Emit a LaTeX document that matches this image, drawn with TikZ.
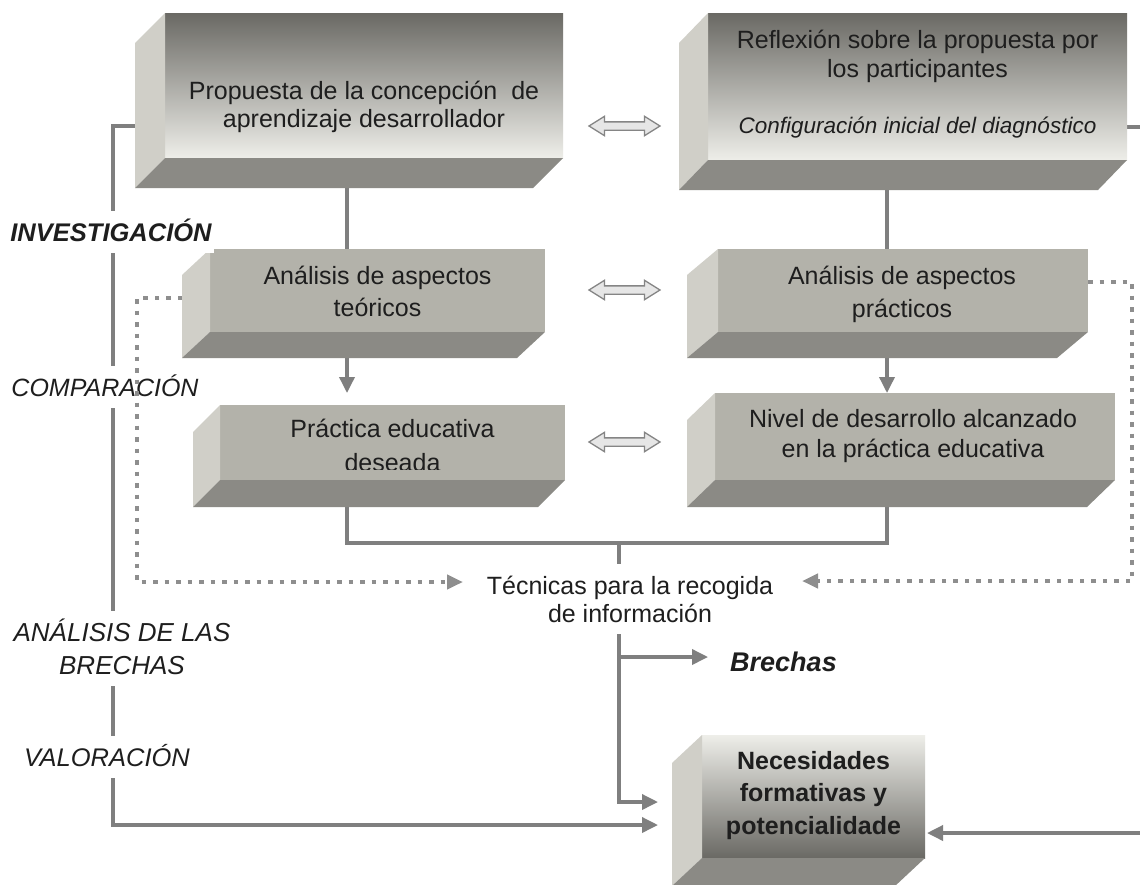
\documentclass[tikz,border=0pt]{standalone}
\usepackage{fontspec}
\setmainfont{Liberation Sans}
\usetikzlibrary{arrows.meta,shapes.arrows,calc}
\pgfdeclarelayer{bg}
\pgfsetlayers{bg,main}
\definecolor{lineg}{HTML}{7F7F7F}
\definecolor{dotg}{HTML}{8E8E8E}
\definecolor{gtop}{HTML}{6A6964}
\definecolor{gmid}{HTML}{BDBCB5}
\definecolor{gbot}{HTML}{EEEEE9}
\definecolor{gmidb}{HTML}{CFCEC8}
\definecolor{flatc}{HTML}{B3B2AA}
\definecolor{leftc}{HTML}{D0CFC8}
\definecolor{botc}{HTML}{8B8A85}
\definecolor{dblc}{HTML}{858585}
\definecolor{dblf}{HTML}{E6E6E6}
\definecolor{txtc}{HTML}{1E1E1E}
\newcommand\fsz[2]{\fontsize{#1}{#2}\selectfont}
\newcommand\boxfaces[3]{%
  \fill[leftface] (#1.north west) -- (#1.south west) -- ++(#2,#3) -- ($(#1.north west)+(#2,#3)$) -- cycle;
  \fill[botface] (#1.south west) -- (#1.south east) -- ++(#2,#3) -- ($(#1.south west)+(#2,#3)$) -- cycle;}
\tikzset{
  conn/.style={draw=lineg, line width=3.5pt},
  arr/.style={conn, -{Triangle[length=16pt,width=15pt]}},
  dotc/.style={draw=dotg, line width=4pt, dash pattern=on 4.5pt off 7pt},
  dotarr/.style={dotc, -{Triangle[length=16pt,width=14pt]}},
  face/.style={rectangle, inner sep=0pt, outer sep=0pt, draw=none},
  flatface/.style={face, fill=flatc},
  darkface/.style={face, top color=gtop, middle color=gmid, bottom color=gbot},
  lightface/.style={face, top color=gbot, middle color=gmidb, bottom color=gtop},
  leftface/.style={fill=leftc},
  botface/.style={fill=botc},
  txt/.style={inner sep=0pt, align=center, text height=18pt, text depth=0pt, text=txtc},
  lab/.style={fill=white, inner xsep=2pt, inner ysep=12pt, align=center, text height=18pt, text depth=0pt, text=txtc},
  dbl/.style={double arrow, draw=dblc, line width=1.3pt, fill=dblf, minimum height=71pt,
    double arrow head extend=5.5pt, inner xsep=0pt, inner ysep=3.5pt, double arrow tip angle=64}
}
\begin{document}
\begin{tikzpicture}[x=1pt,y=-1pt]
\useasboundingbox (0,0) rectangle (1140,884);
\begin{pgfonlayer}{bg}
\fill[white] (0,0) rectangle (1140,884);
\end{pgfonlayer}

% boxes
\node[darkface, minimum width=398pt, minimum height=145pt] (b1) at (364,85.5) {};
\boxfaces{b1}{-30}{30}
\node[darkface, minimum width=419pt, minimum height=147pt] (b2) at (917.5,86.5) {};
\boxfaces{b2}{-29}{30}
\node[flatface, minimum width=335pt, minimum height=83pt] (b3) at (377.5,290.5) {};
\boxfaces{b3}{-28}{26}
\node[flatface, minimum width=370pt, minimum height=83pt] (b4) at (903,290.5) {};
\boxfaces{b4}{-31}{26}
\node[flatface, minimum width=345pt, minimum height=75pt] (b5) at (392.5,442.5) {};
\boxfaces{b5}{-27}{27}
\node[flatface, minimum width=400pt, minimum height=87pt] (b6) at (915,436.5) {};
\boxfaces{b6}{-28}{27}
\node[lightface, minimum width=223pt, minimum height=123pt] (b7) at (813.5,796.5) {};
\boxfaces{b7}{-30}{28}

% box texts
\node[txt, text height=46pt, font=\fsz{25}{28}] (t1) at (364,104) {Propuesta de la concepción\ \ de\\aprendizaje desarrollador};
\node[txt, text height=47pt, font=\fsz{25}{29}] (t2) at (917.5,53.5) {Reflexión sobre la propuesta por\\los participantes};
\node[txt, font=\fsz{22.5}{27}\itshape] (t2b) at (917.5,124) {Configuración inicial del diagnóstico};
\node[txt, text height=50pt, font=\fsz{25}{32}] (t3) at (377.5,291) {Análisis de aspectos\\teóricos};
\node[txt, text height=51pt, font=\fsz{25}{33}] (t4) at (902,291.5) {Análisis de aspectos\\prácticos};
\begin{scope}
\clip ([yshift=11pt]b5.south west) rectangle (b5.north east);
\node[txt, text height=52pt, font=\fsz{25}{34}] (t5) at (392.5,445) {Práctica educativa\\deseada};
\end{scope}
\node[txt, text height=48pt, font=\fsz{25}{30}] (t6) at (913,433) {Nivel de desarrollo alcanzado\\en la práctica educativa};
\node[txt, text height=83pt, font=\fsz{25}{32.5}\bfseries] (t7) at (813.5,792.5) {Necesidades\\formativas y\\potencialidade};
\node[txt, text height=46pt, font=\fsz{25}{28}, inner xsep=4pt, inner ysep=12pt] (tec) at (630,599) {Técnicas para la recogida\\de información};
\node[txt, font=\fsz{27}{30}\bfseries\itshape] (brech) at (783.5,662) {Brechas};

% double arrows
\node[dbl] (d1) at (624.5,126) {};
\node[dbl] (d2) at (624.5,290) {};
\node[dbl] (d3) at (624.5,442) {};

% coordinates
\coordinate (xa) at (347,0);
\coordinate (xb) at (887,0);
\coordinate (xt) at (619,0);
\coordinate (ybr) at (0,543);
\coordinate (lx1) at (113,126);
\coordinate (lx2) at (113,825);
\coordinate (dla) at (137,298);
\coordinate (dlb) at (137,582);
\coordinate (tecl) at (463,582);
\coordinate (dra) at (1132,282);
\coordinate (drb) at (1132,581);
\coordinate (tecr) at (802,581);
\coordinate (rin) at (1142,833);
\coordinate (rout) at (1142,127);
\coordinate (b5top) at ([yshift=12pt]b5.north);
\coordinate (b7in) at ([xshift=-44pt,yshift=-5.5pt]b7.west);
\coordinate (b7in2) at ([xshift=-44pt,yshift=-28.5pt]b7.west);
\coordinate (brin) at ([xshift=-22pt,yshift=5pt]brech.west);

\begin{pgfonlayer}{bg}
\draw[conn] (b1.south -| xa) -- (b3.north -| xa);
\draw[conn] (b2.south -| xb) -- (b4.north -| xb);
\draw[arr] (b3.south -| xa) -- (b5top -| xa);
\draw[arr] (b4.south -| xb) -- (b6.north -| xb);
\draw[conn] (b5.south -| xa) -- (xa |- ybr) -- (xb |- ybr) -- (b6.south -| xb);
\draw[conn] (xt |- ybr) -- (tec.north -| xt);
\draw[arr] (tec.south -| xt) -- (xt |- b7in) -- (b7in);
\draw[arr] (xt |- brin) -- (brin);
\draw[arr] ([yshift=-40.5pt]b1.west) -- (lx1) -- (lx2) -- (b7in2);
\draw[conn] ([yshift=-40.5pt]b2.east) -- (rout);
\draw[arr] (rin) -- ([xshift=2pt,yshift=-36.5pt]b7.east);
\end{pgfonlayer}

% stage labels
\node[lab, font=\fsz{25.5}{30}\bfseries\itshape] (l1) at (111,232) {INVESTIGACIÓN};
\node[lab, font=\fsz{25}{30}\itshape] (l2) at (105,387) {COMPARACIÓN};
\node[lab, text height=51pt, font=\fsz{26}{33}\itshape] (l3) at (122,648.5) {ANÁLISIS DE LAS\\BRECHAS};
\node[lab, font=\fsz{25.5}{30}\itshape] (l4) at (107,757) {VALORACIÓN};

% dotted connectors
\draw[dotarr] ([xshift=-28pt,yshift=-7.5pt]b3.west) -- (dla) -- (dlb) -- (tecl);
\draw[dotarr] ([yshift=8.5pt]b4.east) -- (dra) -- (drb) -- (tecr);
\end{tikzpicture}
\end{document}
